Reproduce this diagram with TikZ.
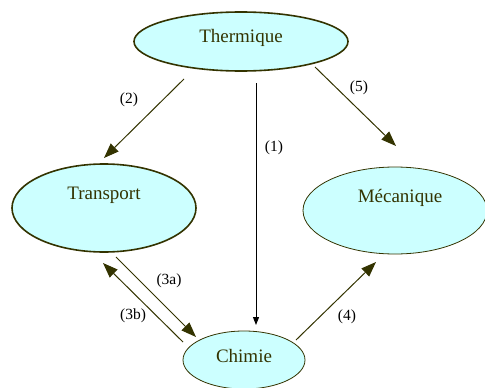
\documentclass[tikz,border=0pt]{standalone}
\usepackage{fontspec}
\setmainfont{Liberation Serif}
\usetikzlibrary{shapes.geometric,arrows.meta}
\definecolor{olive}{HTML}{333300}
\definecolor{cyanfill}{HTML}{CCFFFF}
\tikzset{
  ell/.style={ellipse, draw=olive, fill=cyanfill, inner sep=0pt, outer sep=0pt},
  thickell/.style={ell, line width=1.6pt},
  thinell/.style={ell, line width=0.8pt},
  ntext/.style={anchor=base, text=olive, inner sep=0pt, font=\fontsize{19}{22}\selectfont},
  lbl/.style={text=black, inner sep=0pt, font=\fontsize{15.5}{18}\selectfont},
  conn/.style={draw=olive, line width=1pt, -{Triangle[length=15pt,width=11pt]}},
  vconn/.style={draw=black, line width=1pt, -{Triangle[length=8pt,width=6pt]}}
}
\begin{document}
\begin{tikzpicture}[x=1pt,y=-1pt]
\useasboundingbox (0,0) rectangle (485,388);
\clip (0,0) rectangle (485,388);
\node[thickell, minimum width=214pt, minimum height=59pt] (therm) at (241,41.5) {};
\node[thickell, minimum width=184pt, minimum height=88pt] (trans) at (104,208) {};
\node[thinell, minimum width=184pt, minimum height=87pt] (meca) at (395,210.5) {};
\node[thinell, minimum width=122pt, minimum height=58pt] (chim) at (244,360) {};
\node[ntext] (tthermique) at (241,42.7) {Thermique};
\node[ntext] (ttransport) at (104,199) {Transport};
\node[ntext] (tmeca) at (400,202) {Mécanique};
\node[ntext] (tchim) at (244,362) {Chimie};
\coordinate (a2s) at (184,79);  \coordinate (a2e) at (104,158);
\coordinate (a5s) at (315,67);  \coordinate (a5e) at (396,146);
\coordinate (a1s) at (256,83);  \coordinate (a1e) at (256,325);
\coordinate (a3as) at (116,257); \coordinate (a3ae) at (196,337);
\coordinate (a3bs) at (183,342); \coordinate (a3be) at (103,263);
\coordinate (a4s) at (296,340); \coordinate (a4e) at (376,262);
\draw[conn] (a2s) -- (a2e);
\draw[conn] (a5s) -- (a5e);
\draw[vconn] (a1s) -- (a1e);
\draw[conn] (a3as) -- (a3ae);
\draw[conn] (a3bs) -- (a3be);
\draw[conn] (a4s) -- (a4e);
\node[lbl] (l2) at (129,100) {(2)};
\node[lbl] (l5) at (359,88) {(5)};
\node[lbl] (l1) at (274,148) {(1)};
\node[lbl] (l3a) at (169,281) {(3a)};
\node[lbl] (l3b) at (133,316) {(3b)};
\node[lbl] (l4) at (347,317) {(4)};
\end{tikzpicture}
\end{document}
